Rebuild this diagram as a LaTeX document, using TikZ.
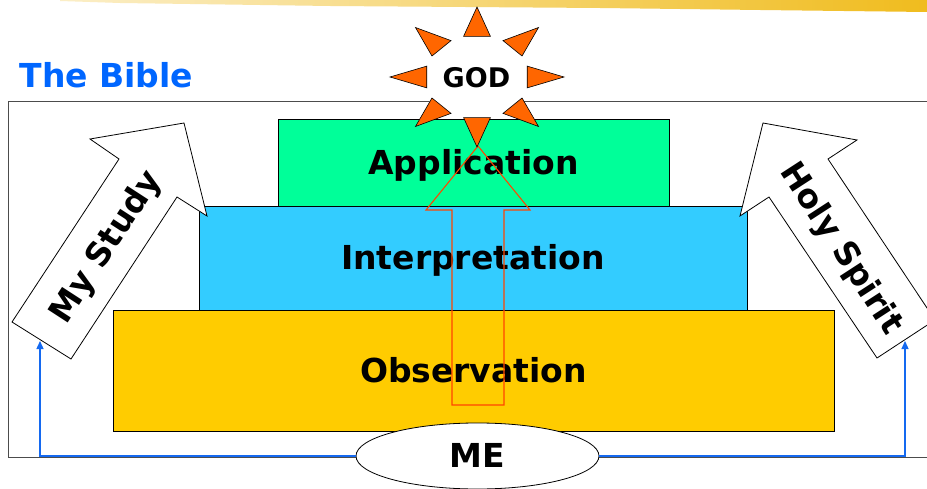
\documentclass[tikz,border=0pt]{standalone}
\usepackage{fontspec}
\setmainfont{DejaVu Sans}
\usetikzlibrary{shapes.geometric,arrows.meta}
\definecolor{brush}{RGB}{240,188,30}
\definecolor{appgreen}{RGB}{0,255,153}
\definecolor{intcyan}{RGB}{51,204,255}
\definecolor{obsyellow}{RGB}{255,204,0}
\definecolor{rayorange}{RGB}{255,102,0}
\definecolor{shaftred}{RGB}{255,70,0}
\definecolor{linkblue}{RGB}{20,105,240}
\definecolor{biblueblue}{RGB}{0,102,255}
\begin{document}
\begin{tikzpicture}[x=1pt,y=-1pt,
  lbl/.style={font=\fontsize{33}{36}\selectfont\bfseries,text height=23.5pt,text depth=0pt,inner sep=0pt},
  tier/.style={lbl,draw,line width=.8pt},
  bigarrow/.style={draw,fill=white,line width=.8pt},
  ray/.style={draw,fill=rayorange,line width=.6pt},
  link/.style={draw=linkblue,line width=1.3pt,-{Triangle[length=8pt,width=7pt]}}]
\clip (0,0) rectangle (927,489);
\fill[white] (0,0) rectangle (927,489);
\shade[left color=brush!25,right color=brush] (60,0)--(927,0)--(927,12)--(760,10)--(600,8)--(330,6)--(120,3)--(60,1)--cycle;
\draw[black!70,line width=.8pt] (927,101)--(8,101)--(8,457)--(927,457);
\node[lbl,text=biblueblue] (bible) at (106.5,75.5) {The Bible};
\node[ellipse,fill=white,inner sep=0pt,minimum width=116pt,minimum height=80pt,
  font=\fontsize{27}{30}\selectfont\bfseries,text height=19.5pt,text depth=0pt] (god) at (476.5,78) {GOD};
\node[tier,fill=appgreen,minimum width=391pt,minimum height=87pt] (app) at (473.5,162.5) {Application};
\node[tier,fill=intcyan,minimum width=548pt,minimum height=104pt] (interp) at (473,258) {Interpretation};
\node[tier,fill=obsyellow,minimum width=721pt,minimum height=121pt] (obs) at (473.5,370.5) {Observation};
\draw[shaftred,line width=1.1pt] (452,405)--(452,210)--(426,210)--(478,146)--(530,210)--(504,210)--(504,405)--cycle;
\begin{scope}[shift={(477,77)}]
\foreach \a in {0,45,...,315}
  \filldraw[ray] ({87*cos(\a)},{70*sin(\a)})--({52*cos(\a+15)},{42*sin(\a+15)})--({52*cos(\a-15)},{42*sin(\a-15)})--cycle;
\end{scope}
\draw[bigarrow] (12,322)--(119,159)--(90,139)--(184,123)--(207,216)--(177,197)--(71,359)--cycle;
\node[lbl,rotate=57] (study) at (104.5,246) {My Study};
\draw[bigarrow] (763,123)--(857,140)--(828,159)--(935,320)--(877,358)--(769,197)--(740,216)--cycle;
\node[lbl,rotate=-57] (spirit) at (843,247.5) {Holy Spirit};
\coordinate (studyfoot) at (40,341);
\coordinate (spiritfoot) at (905,341);
\node[lbl,ellipse,draw,fill=white,line width=.8pt,minimum width=243pt,minimum height=66pt] (me) at (477.5,456) {ME};
\draw[link] (me.west) -| (studyfoot);
\draw[link] (me.east) -| (spiritfoot);
\end{tikzpicture}
\end{document}
